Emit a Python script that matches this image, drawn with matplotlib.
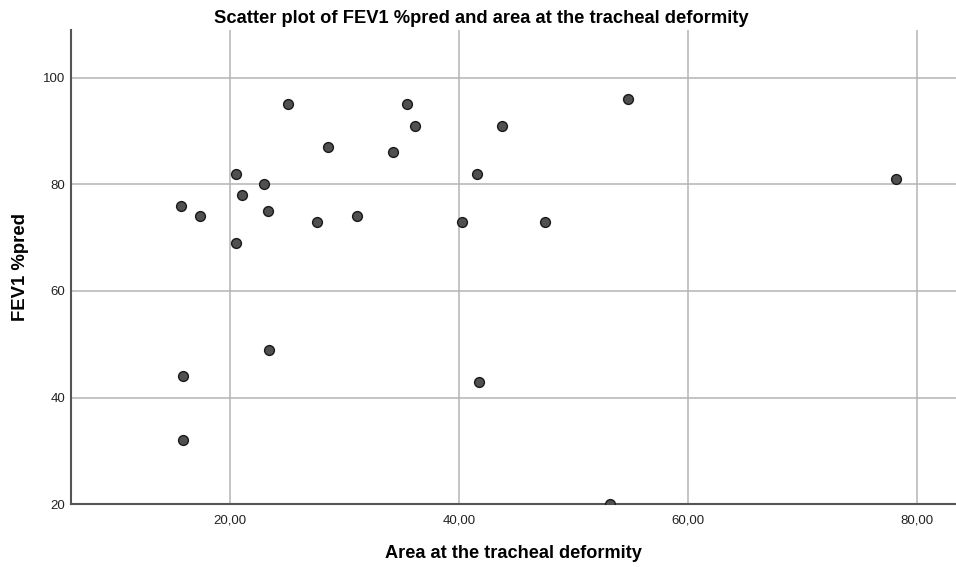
import numpy as np
import matplotlib

matplotlib.use('Agg')
import matplotlib.pyplot as plt
from matplotlib.ticker import FuncFormatter

plt.rcParams['font.family'] = ['Liberation Sans', 'DejaVu Sans']

# area at the tracheal deformity vs FEV1 %pred
area = [15.7, 17.4, 20.55, 20.55, 21.05, 22.97, 23.32, 25.07, 27.63, 28.56,
        31.06, 34.24, 35.46, 36.16, 40.24, 41.6, 15.87, 15.9, 23.38, 41.78,
        53.22, 43.78, 47.54, 54.76, 78.17]
fev1 = [76, 74, 82, 69, 78, 80, 75, 95, 73, 87,
        74, 86, 95, 91, 73, 82, 44, 32, 49, 43,
        20, 91, 73, 96, 81]

x_ticks = [20, 40, 60, 80]
y_ticks = [20, 40, 60, 80, 100]

fig = plt.figure(figsize=(9.56, 5.67), dpi=100)
ax = fig.add_axes([0.074, 0.1106, 0.926, 0.8364])

ax.grid(True, color='#b4b4b4', linewidth=1.1)
ax.set_axisbelow(True)
ax.scatter(area, fev1, s=50, c='#505050', edgecolors='#1a1a1a', linewidths=1.0, zorder=3)

ax.set_xlim(6.1, 83.4)
ax.set_ylim(20, 108.9)
ax.set_xticks(x_ticks)
ax.set_yticks(y_ticks)
ax.xaxis.set_major_formatter(FuncFormatter(lambda v, p: ('%.2f' % v).replace('.', ',')))
ax.tick_params(length=0, labelsize=9.5, colors='#222222')
ax.tick_params(axis='y', pad=4)
ax.tick_params(axis='x', pad=7)

for side in ['top', 'right']:
    ax.spines[side].set_visible(False)
for side in ['left', 'bottom']:
    ax.spines[side].set_color('#555555')
    ax.spines[side].set_linewidth(1.5)

ax.set_xlabel('Area at the tracheal deformity', fontsize=13.1, fontweight='bold', labelpad=14)
ax.set_ylabel('FEV1 %pred', fontsize=13.3, fontweight='bold', labelpad=10)
fig.text(0.503, 0.968, 'Scatter plot of FEV1 %pred and area at the tracheal deformity',
         ha='center', va='center', fontsize=13.2, fontweight='bold')

fig.savefig('out.png', dpi=100)
